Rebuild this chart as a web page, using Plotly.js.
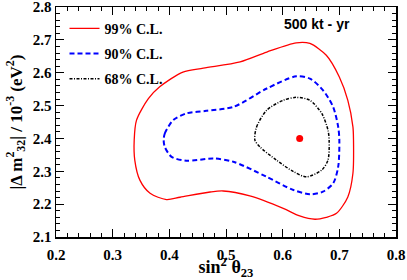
<!DOCTYPE html>
<html><head><meta charset="utf-8">
<script src="https://cdn.plot.ly/plotly-3.0.1.min.js"></script>
<style>html,body{margin:0;padding:0;background:#fff}#c{width:407px;height:280px}</style>
</head><body><div id="c"></div>
<script>
const x99 = [0.338,0.342,0.363,0.383,0.424,0.460,0.525,0.572,0.624,0.648,0.677,0.700,0.715,0.724,0.725,0.724,0.715,0.695,0.677,0.657,0.630,0.601,0.542,0.495,0.472,0.419,0.395,0.366,0.348,0.339,0.338];
const y99 = [2.395,2.455,2.521,2.557,2.602,2.614,2.633,2.663,2.691,2.689,2.653,2.587,2.516,2.435,2.395,2.294,2.222,2.172,2.160,2.154,2.164,2.187,2.225,2.240,2.237,2.221,2.214,2.233,2.273,2.334,2.395];
const x90 = [0.390,0.392,0.407,0.430,0.465,0.513,0.572,0.624,0.648,0.671,0.689,0.698,0.700,0.698,0.689,0.671,0.648,0.619,0.572,0.513,0.478,0.430,0.404,0.392,0.390];
const y90 = [2.395,2.415,2.456,2.476,2.484,2.496,2.552,2.589,2.582,2.547,2.496,2.435,2.395,2.314,2.263,2.238,2.230,2.243,2.283,2.329,2.339,2.332,2.344,2.374,2.395];
const x68 = [0.551,0.554,0.572,0.601,0.624,0.648,0.669,0.680,0.682,0.680,0.669,0.642,0.619,0.589,0.560,0.551];
const y68 = [2.395,2.435,2.486,2.516,2.525,2.516,2.476,2.425,2.395,2.334,2.304,2.283,2.299,2.334,2.374,2.395];
const bestX = [0.63];
const bestY = [2.40];
const names = ['99% C.L.','90% C.L.','68% C.L.'];
const xTickVals = [0.2,0.3,0.4,0.5,0.6,0.7,0.8];
const xTickText = ['0.2','0.3','0.4','0.5','0.6','0.7','0.8'];
const yTickVals = [2.1,2.2,2.3,2.4,2.5,2.6,2.7,2.8];
const yTickText = ['2.1','2.2','2.3','2.4','2.5','2.6','2.7','2.8'];
const label = '500 kt - yr';

const serif = 'Liberation Serif';
const traces = [
  {x:x99,y:y99,mode:'lines',name:names[0],legendgroup:'a',line:{color:'#ff0000',width:1.3,shape:'spline',smoothing:0.8}},
  {x:x90,y:y90,mode:'lines',name:names[1],legendgroup:'b',line:{color:'#0000ff',width:2,dash:'5px,3px',shape:'spline',smoothing:0.8}},
  {x:x68,y:y68,mode:'lines',name:names[2],legendgroup:'c',line:{color:'#000000',width:1.5,dash:'3px,1.5px,1px,1.5px',shape:'spline',smoothing:0.8}},
  {x:bestX,y:bestY,mode:'markers',showlegend:false,marker:{color:'#ff0000',size:7}}
];
function ax(range, tv, tt, title, tsize, standoff, lblOff){
  return {
    range:range, tickmode:'array', tickvals:tv, ticktext:tt.map(t=>'<b>'+t+'</b>'),
    showgrid:false, zeroline:false, showline:true, linecolor:'#000', linewidth:1.5,
    mirror:'allticks', ticks:'inside', ticklen:8, tickwidth:1, tickcolor:'#000',
    ticklabeloverflow:'allow', ticklabelstandoff:lblOff,
    tickfont:{family:serif,size:15,color:'#000',weight:'bold'},
    minor:{ticks:'inside',ticklen:4,tickwidth:1,tickcolor:'#000',dtick:0.02,tick0:range[0]},
    title:{text:title,font:{family:serif,size:tsize,color:'#000',weight:'bold'},standoff:standoff}
  };
}
const layout = {
  width:407,height:280,
  margin:{l:56,r:11,t:7,b:43},
  paper_bgcolor:'#fff',plot_bgcolor:'#fff',
  showlegend:true,
  legend:{x:0.025,y:0.975,xanchor:'left',yanchor:'top',bgcolor:'rgba(0,0,0,0)',
    font:{family:serif,size:14,color:'#000',weight:'bold'},tracegroupgap:4},
  xaxis:ax([0.2,0.8],xTickVals,xTickText,'<b>sin<sup>2</sup> θ<sub>23</sub></b>',18,10,3),
  yaxis:ax([2.1,2.8],yTickVals,yTickText,'<b>|Δ m<sup>2</sup><sub>32</sub>| / 10<sup>-3</sup> (eV<sup>2</sup>)</b>',17,6,0),
  annotations:[{x:0.661,y:2.747,xref:'x',yref:'y',text:'<b>'+label+'</b>',showarrow:false,
    font:{family:'Liberation Sans',size:14,color:'#000'}}]
};
Plotly.newPlot('c',traces,layout,{displayModeBar:false,staticPlot:true});
</script></body></html>
